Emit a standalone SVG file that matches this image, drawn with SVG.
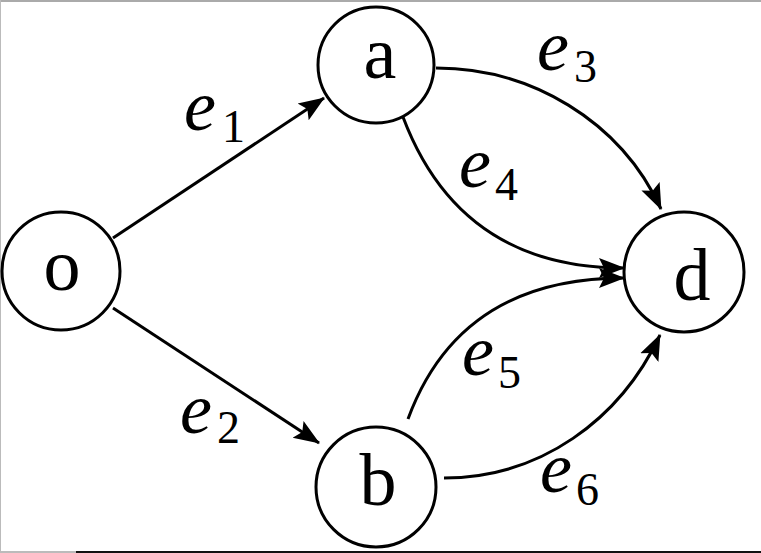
<svg xmlns="http://www.w3.org/2000/svg" width="761" height="553" viewBox="0 0 761 553">
<defs>
<marker id="arr" markerWidth="28" markerHeight="22" refX="25" refY="11" orient="auto" markerUnits="userSpaceOnUse">
<path d="M0,1 L26,11 L0,21 L5,11 Z" fill="#000"/>
</marker>
</defs>
<rect x="0" y="0" width="761" height="553" fill="#fff"/>
<line x1="0" y1="1" x2="761" y2="1" stroke="#aaa" stroke-width="2"/>
<line x1="0.5" y1="0" x2="0.5" y2="553" stroke="#bbb" stroke-width="1"/>
<line x1="0" y1="552" x2="76" y2="552" stroke="#bbb" stroke-width="2"/>
<line x1="76" y1="552" x2="761" y2="552" stroke="#111" stroke-width="2"/>
<g id="connectors" fill="none" stroke="#000" stroke-width="3">
<path d="M113,238 L324,98" marker-end="url(#arr)"/>
<path d="M113,308 L319,443" marker-end="url(#arr)"/>
<path d="M436,68 C530,68 620,120 661,209" marker-end="url(#arr)"/>
<path d="M403,117 Q460,268 624,268" marker-end="url(#arr)"/>
<path d="M408,419 Q460,278 624,278" marker-end="url(#arr)"/>
<path d="M444,478 C540,478 620,420 660,335" marker-end="url(#arr)"/>
</g>
<g font-family="Liberation Serif, serif" fill="#000">
<g id="node-o"><circle cx="61" cy="271" r="59" fill="#fff" stroke="#000" stroke-width="3"/><text x="62" y="290" font-size="74" text-anchor="middle">o</text></g>
<g id="node-a"><circle cx="376" cy="65" r="58" fill="#fff" stroke="#000" stroke-width="3"/><text x="380" y="78" font-size="74" text-anchor="middle">a</text></g>
<g id="node-d"><circle cx="684" cy="272" r="60" fill="#fff" stroke="#000" stroke-width="3"/><text x="692" y="300" font-size="74" text-anchor="middle">d</text></g>
<g id="node-b"><circle cx="376" cy="487" r="60" fill="#fff" stroke="#000" stroke-width="3"/><text x="378" y="505" font-size="74" text-anchor="middle">b</text></g>
<g id="labels" font-size="72" font-style="italic">
<text x="184" y="130">e<tspan x="222" y="142" font-size="46" font-style="normal">1</tspan></text>
<text x="180" y="433">e<tspan x="217" y="443" font-size="46" font-style="normal">2</tspan></text>
<text x="537" y="70">e<tspan x="574" y="82" font-size="46" font-style="normal">3</tspan></text>
<text x="459" y="187">e<tspan x="495" y="200" font-size="46" font-style="normal">4</tspan></text>
<text x="462" y="375">e<tspan x="498" y="388" font-size="46" font-style="normal">5</tspan></text>
<text x="540" y="492">e<tspan x="576" y="505" font-size="46" font-style="normal">6</tspan></text>
</g>
</g>
</svg>
